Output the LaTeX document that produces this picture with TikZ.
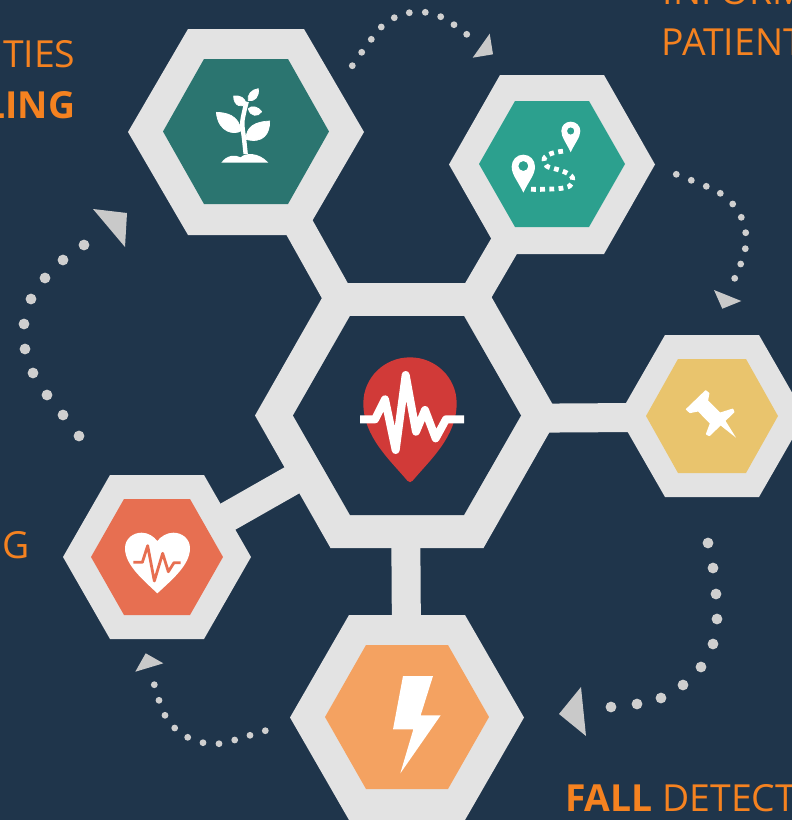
\documentclass[tikz,border=0pt]{standalone}
\usepackage{fontspec}
\setmainfont{Open Sans}
\definecolor{bgc}{HTML}{1F354B}
\definecolor{frame}{HTML}{E3E3E3}
\definecolor{dotc}{HTML}{CFCFCF}
\definecolor{tric}{HTML}{C9C9C9}
\definecolor{txt}{HTML}{F58220}
\definecolor{cTL}{HTML}{2B7570}
\definecolor{cTR}{HTML}{2CA08E}
\definecolor{cR}{HTML}{E9C46D}
\definecolor{cL}{HTML}{E76F51}
\definecolor{cB}{HTML}{F4A261}
\definecolor{cRed}{HTML}{D13A38}
\newcommand{\hexa}[6]{\fill[#6] (#1-#3,#2) -- (#1-#5,#2-#4) -- (#1+#5,#2-#4) -- (#1+#3,#2) -- (#1+#5,#2+#4) -- (#1-#5,#2+#4) -- cycle;}
\tikzset{
  link/.style={frame,line width=30pt},
  label/.style={inner sep=0pt,text=txt,font=\fontsize{37.3}{37.3}\selectfont},
  tri/.style={fill=tric,draw=none},
  leaf/.style={fill=white,draw=white,line width=.7pt,line join=round},
}
\begin{document}
\begin{tikzpicture}[x=1pt,y=-1pt]
\useasboundingbox (0,0) rectangle (792,820);
\fill[bgc] (0,0) rectangle (792,820);
\begin{scope}
\clip (0,0) rectangle (792,820);
% centres
\coordinate (tl) at (246,132);
\coordinate (tr) at (552,164);
\coordinate (mid) at (405,416);
\coordinate (midr) at (405,419);
\coordinate (rt) at (712,417);
\coordinate (lf) at (157,557);
\coordinate (bt) at (407,717);
% connectors
\draw[link] (tl) -- (mid);
\draw[link] (tr) -- (mid);
\draw[link,line width=29pt] (rt) -- (midr);
\draw[link] (lf) -- (mid);
\draw[link,line width=29pt] (bt) -- (mid);
% hexagons
\hexa{246}{132}{118}{103}{58}{frame}
\hexa{246}{131.5}{83}{72.5}{42}{cTL}
\hexa{552}{164.5}{103}{89.5}{52}{frame}
\hexa{552}{164}{73}{63}{37}{cTR}
\hexa{407}{415.5}{152}{132.5}{76.5}{frame}
\hexa{407}{415.5}{114}{99.5}{57}{bgc}
\hexa{712}{416}{93.5}{81}{47}{frame}
\hexa{712}{416}{66}{57}{34}{cR}
\hexa{157}{557}{94}{82}{47}{frame}
\hexa{157}{557}{66}{58}{33}{cL}
\hexa{407}{717.5}{117}{102.5}{58}{frame}
\hexa{407}{717}{82}{72}{41}{cB}
% plant
\begin{scope}[shift={(180,70)},scale=1/3]
\filldraw[leaf] (109,127) .. controls (140,128) and (175,135) .. (184,182) .. controls (165,195) and (115,190) .. (109,127) -- cycle;
\filldraw[leaf] (269,153) .. controls (225,155) and (198,170) .. (198,208) .. controls (250,222) and (270,190) .. (269,153) -- cycle;
\filldraw[leaf] (161,78) .. controls (180,75) and (197,85) .. (197,100) .. controls (190,115) and (160,110) .. (161,78) -- cycle;
\filldraw[leaf] (235,56) .. controls (215,58) and (200,75) .. (205,92) .. controls (225,95) and (238,80) .. (235,56) -- cycle;
\filldraw[leaf] (245,125) .. controls (235,110) and (215,105) .. (205,116) .. controls (210,140) and (235,142) .. (245,125) -- cycle;
\draw[white,line width=4.4pt] plot[smooth] coordinates {(197,252) (192,205) (187,155) (200,95)};
\fill[white] (124,278) .. controls (140,255) and (165,253) .. (182,262) .. controls (195,248) and (235,245) .. (265,278) -- cycle;
\end{scope}
% map pins
\begin{scope}[shift={(490,100)},scale=1/3]
\fill[white,even odd rule] (100,278) .. controls (85,245) and (65,225) .. (65,200) .. controls (65,180) and (80,164) .. (100,164) .. controls (120,164) and (135,180) .. (135,200) .. controls (135,225) and (115,245) .. (100,278) -- cycle (100,198) circle[radius=15];
\fill[white,even odd rule] (242,157) .. controls (230,130) and (214,112) .. (214,93) .. controls (214,77) and (226,65) .. (242,65) .. controls (258,65) and (271,77) .. (271,93) .. controls (271,112) and (254,130) .. (242,157) -- cycle (242,93) circle[radius=11];
\draw[white,line width=4.8pt,dash pattern=on 4.8pt off 4.4pt] plot[smooth,tension=.6] coordinates {(123,268) (159,268) (187,267) (214,265) (240,257) (247,232) (222,215) (197,207) (170,198) (163,175) (185,160) (222,153)};
\end{scope}
% pulse pin
\begin{scope}[shift={(340,340)},scale=1/3]
\fill[cRed] (70,190) .. controls (70,113) and (133,52) .. (210,52) .. controls (287,52) and (350,113) .. (350,190) .. controls (350,290) and (270,360) .. (218,422) .. controls (214,428) and (206,428) .. (202,422) .. controls (150,360) and (70,290) .. (70,190) -- cycle;
\draw[white,line width=8pt,line join=round] (60,238) -- (105,238) -- (135,178) -- (167,330) -- (197,105) -- (228,275) -- (255,210) -- (287,295) -- (318,238) -- (372,238);
\end{scope}
% pushpin
\begin{scope}[shift={(670,370)},scale=1/3]
\filldraw[white,line width=1.5pt,line join=round] (50,118) -- (107,63) -- (116,70) -- (112,92) -- (150,130) -- (188,118) -- (191,126) -- (118,196) -- (110,192) -- (122,160) -- (85,122) -- (60,127) -- cycle;
\fill[white] (150,165) -- (198,203) -- (165,150) -- cycle;
\end{scope}
% heart
\begin{scope}[shift={(110,515)},scale=1/3]
\fill[white] (142,235) .. controls (100,195) and (45,150) .. (45,100) .. controls (45,70) and (70,53) .. (95,53) .. controls (115,53) and (132,65) .. (142,78) .. controls (152,65) and (170,53) .. (190,53) .. controls (215,53) and (240,70) .. (240,100) .. controls (240,150) and (185,195) .. (142,235) -- cycle;
\draw[cL,line width=2.8pt,line join=round] (70,142) -- (97,142) -- (113,92) -- (133,198) -- (158,115) -- (175,170) -- (192,143) -- (212,143);
\end{scope}
% bolt
\begin{scope}[shift={(370,660)},scale=1/3]
\fill[white] (99,48) -- (189,48) -- (152,166) -- (212,166) -- (91,340) -- (130,208) -- (69,208) -- cycle;
\end{scope}
% dots
\foreach \p in {(352.3,65.7),(361.7,52.3),(371.3,39.3),(381.3,27),(394.3,17.7),(409.3,12.7),(425.3,12.3),(440.7,16.7),(454,24.7),(466.7,34.3),
 (676.3,174.3),(691.3,180.3),(706.3,186.3),(720.3,193.3),(732.7,204),(741.3,217.3),(745.7,232.7),(745.3,248.7),(740.7,264),(734.7,278.3),
 (154.3,684.7),(159,700.3),(165,715.3),(174.7,728),(187.7,737.3),(203,742.7),(219,743.7),(234.7,740),(250,735.3),(265.3,730.7)}
  \fill[dotc] \p circle[radius=3.4];
\foreach \p in {(79,436),(63,415),(47,395),(33,373),(25,349),(24,324),(31,299),(45,278),(63,260),(84,245),
 (708,543),(713,568),(716,594),(717,619),(713,644),(701,667),(683,685),(661,698),(637,704),(611,707)}
  \fill[dotc] \p circle[radius=5.4];
% arrowheads
\fill[tri] (489.7,33.7) -- (493,54.3) -- (472.7,57.7) -- cycle;
\fill[tri] (714,290) -- (741.3,301) -- (722.3,308.7) -- cycle;
\fill[tri] (145.7,653.3) -- (163.3,663.3) -- (135.3,671.7) -- cycle;
\fill[tri] (93,209) -- (127,213) -- (125,247) -- cycle;
\fill[tri] (559,714) -- (581,687) -- (586,736) -- cycle;
% labels
\node[label,anchor=base east] (l1) at (75.5,67) {TIES};
\node[label,anchor=base east] (l2) at (75.5,118) {\textbf{LING}};
\node[label,anchor=base west] (l3) at (662.5,4) {INFORM};
\node[label,anchor=base west] (l4) at (661.5,55) {PATIENT};
\node[label,anchor=base east] (l5) at (29.5,558) {G};
\node[label,anchor=base west] (l6) at (565,811) {\textbf{FALL} DETECT};
\end{scope}
\end{tikzpicture}
\end{document}
